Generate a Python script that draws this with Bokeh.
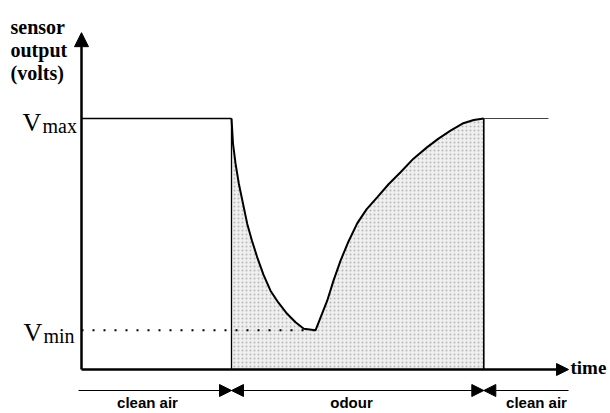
from bokeh.plotting import figure
from bokeh.models import Range1d, Arrow, NormalHead
from bokeh.core.properties import value
from bokeh.embed import file_html
from bokeh.resources import INLINE

# ---- data (time in arbitrary units, sensor output in volts) ----
v_max = 5.0
v_min = 0.78
t_on = 10.0           # odour switched on
t_off = 26.82         # odour switched off
t_end_line = 31.13    # end of the recovered baseline
t_axis_end = 32.47    # tip of the time axis
v_axis_end = 6.71     # tip of the voltage axis

# response curve (decay then recovery)
resp_t = [10.0, 10.1, 10.27, 10.49, 11.05, 11.37, 11.71, 12.13, 12.6, 13.13,
          13.71, 14.27, 14.82, 15.6, 16.38, 16.8, 17.27, 17.8, 18.38, 19.0,
          19.71, 20.47, 21.27, 22.13, 23.05, 23.8, 24.6, 25.4, 26.15, 26.82]
resp_v = [5.0, 4.50, 4.10, 3.70, 2.90, 2.56, 2.24, 1.89, 1.57, 1.33,
          1.11, 0.94, 0.81, 0.78, 1.37, 1.77, 2.17, 2.55, 2.91, 3.19,
          3.43, 3.69, 3.93, 4.20, 4.43, 4.60, 4.76, 4.90, 4.97, 5.0]

phase_labels = ["clean air", "odour", "clean air"]
y_labels = ["sensor", "output", "(volts)"]

# ---- layout helpers (pixel scale of the drawing) ----
PX_T = 15.0   # px per time unit
PX_V = 50.2   # px per volt
X0 = 81       # px of t = 0
Y0 = 369      # px of V = 0
W, H = 610, 413


def tx(px):
    return (px - X0) / PX_T


def vy(py):
    return (Y0 - py) / PX_V


p = figure(width=W, height=H, output_backend="svg", toolbar_location=None,
           x_range=Range1d(tx(0), tx(W)),
           y_range=Range1d(vy(H), vy(0)),
           x_axis_type=None, y_axis_type=None, min_border=0)
p.grid.visible = False
p.outline_line_color = None
p.background_fill_color = "white"
p.border_fill_color = "white"

# shaded response area
p.varea(x=resp_t, y1=[0] * len(resp_t), y2=resp_v,
        fill_color="#efefef", hatch_pattern=".", hatch_color="#b8b8b8",
        hatch_scale=4, hatch_weight=1)

# baseline before odour
p.line([0, t_on], [v_max, v_max], line_color="black", line_width=1.3)
# vertical switching lines
p.line([t_on, t_on], [0, v_max], line_color="black", line_width=1.3)
p.line([t_off, t_off], [0, v_max], line_color="black", line_width=1.6)
# baseline after odour
p.line([t_off, t_end_line], [v_max, v_max], line_color="#444444", line_width=1.2)
# response curve
p.line(resp_t, resp_v, line_color="black", line_width=2)
# Vmin dotted level
p.line([0, resp_t[resp_v.index(min(resp_v))]], [v_min, v_min], line_color="black",
       line_width=2, line_dash="2 9")

# axes with arrow heads
p.add_layout(Arrow(x_start=0, y_start=0, x_end=t_axis_end, y_end=0,
                   line_width=2.5, line_color="black",
                   end=NormalHead(size=12, fill_color="black", line_color="black")))
p.add_layout(Arrow(x_start=0, y_start=0, x_end=0, y_end=v_axis_end,
                   line_width=2.5, line_color="black",
                   end=NormalHead(size=14, fill_color="black", line_color="black")))

# phase arrows under the axis
y_ph = vy(390)
head = dict(size=12, fill_color="black", line_color="black")
p.add_layout(Arrow(x_start=tx(78), y_start=y_ph, x_end=t_on, y_end=y_ph,
                   line_width=1.2, line_color="black", start=None,
                   end=NormalHead(**head)))
p.add_layout(Arrow(x_start=t_on, y_start=y_ph, x_end=t_off, y_end=y_ph,
                   line_width=1.2, line_color="black",
                   start=NormalHead(**head), end=NormalHead(**head)))
p.add_layout(Arrow(x_start=t_off, y_start=y_ph, x_end=t_axis_end, y_end=y_ph,
                   line_width=1.2, line_color="black",
                   start=NormalHead(**head), end=None))

sans = value("Liberation Sans")
serif = value("Liberation Serif")

p.text(x=[tx(147), tx(351), tx(536)], y=[vy(393)] * 3, text=phase_labels,
       text_font=sans, text_font_style="bold", text_font_size="15px",
       text_align="center", text_baseline="top", text_color="black")

p.text(x=[tx(10)] * 3, y=[vy(26), vy(49), vy(72)], text=y_labels,
       text_font=serif, text_font_style="bold", text_font_size="20px",
       text_align="left", text_baseline="alphabetic", text_color="black")

p.text(x=[tx(570)], y=[vy(367)], text=["time"],
       text_font=serif, text_font_style="bold", text_font_size="19px",
       text_align="left", text_baseline="alphabetic", text_color="black")

# V_max / V_min labels
p.text(x=[tx(22), tx(23)], y=[v_max - 4 / PX_V, v_min - 2 / PX_V], text=["V", "V"],
       text_font=serif, text_font_size="26px",
       text_align="left", text_baseline="alphabetic", text_color="black")
p.text(x=[tx(42), tx(43)], y=[v_max - 7 / PX_V, v_min - 6 / PX_V], text=["max", "min"],
       text_font=serif, text_font_size="20px",
       text_align="left", text_baseline="alphabetic", text_color="black")

open("out.html", "w").write(file_html(p, INLINE))
